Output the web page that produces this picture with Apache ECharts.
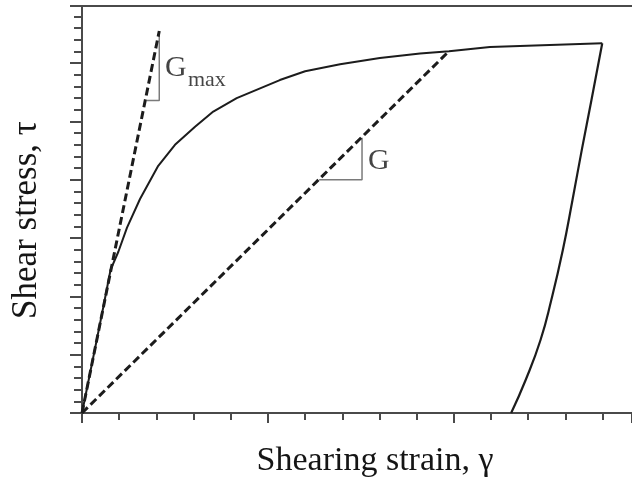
<!DOCTYPE html>
<html>
<head>
<meta charset="utf-8">
<script src="https://cdn.jsdelivr.net/npm/echarts@6/dist/echarts.min.js"></script>
<style>
  html, body { margin: 0; padding: 0; background: #fff; }
  #chart { width: 632px; height: 480px; }
</style>
</head>
<body>
<div id="chart"></div>
<script>
// Axis extents, in tick units (one minor tick = 1)
const xMax = 14.79;
const yMax = 34.9;

// Backbone (loading) curve: [strain, stress]
const backbone = [
  [0, 0], [0.19, 3.0], [0.38, 6.0], [0.58, 9.2], [0.77, 12.3], [0.98, 13.85],
  [1.21, 15.9], [1.56, 18.35], [2.05, 21.2], [2.5, 23.0], [3.04, 24.55],
  [3.53, 25.85], [4.16, 27.0], [5.32, 28.55], [6.0, 29.3], [6.94, 29.9],
  [8.01, 30.45], [9.09, 30.83], [9.87, 31.03], [10.97, 31.38], [12.58, 31.56],
  [13.99, 31.71]
];

// Unloading branch from the peak back to zero stress
const unloading = [
  [13.99, 31.71], [13.70, 26.84], [13.44, 22.56], [13.19, 18.27],
  [12.93, 13.98], [12.62, 9.69], [12.33, 6.26], [11.93, 2.83], [11.54, 0]
];

// Initial (maximum) shear modulus line and secant modulus line
const gmaxLine = [[0, 0], [2.078, 32.76]];
const secantLine = [[0, 0], [9.87, 31.03]];

// Slope triangles
const gmaxTriangle = [[1.74, 26.8], [2.078, 26.8], [2.078, 32.76]];
const gTriangle = [[6.378, 20.0], [7.53, 20.0], [7.53, 23.61]];

// Label anchors
const labelG = [[7.69, 21.6]];
const labelGmaxMain = [[2.23, 29.6]];
const labelGmaxSub = [[2.85, 28.5]];

const axisColor = '#4a4a4a';
const inkColor = '#1c1c1c';
const textColor = '#151515';
const serif = '"Liberation Serif", "DejaVu Serif", serif';

const chart = echarts.init(document.getElementById('chart'), null, { renderer: 'canvas' });

function valueAxis(extra) {
  return Object.assign({
    type: 'value',
    min: 0,
    axisLabel: { show: false },
    splitLine: { show: false },
    axisLine: { show: false },
    axisTick: { show: false }
  }, extra);
}

function textLabel(text, size) {
  return {
    show: true,
    position: 'inside',
    align: 'left',
    verticalAlign: 'middle',
    formatter: text,
    fontFamily: serif,
    fontSize: size,
    color: textColor
  };
}

chart.setOption({
  animation: false,
  backgroundColor: '#ffffff',
  grid: { left: 82, right: 0, top: 6, bottom: 67, outerBoundsMode: 'none' },
  xAxis: [
    valueAxis({
      position: 'bottom', max: xMax, interval: 1,
      axisLine: { show: true, onZero: false, lineStyle: { color: axisColor, width: 2 } },
      axisTick: { show: true, length: 7, lineStyle: { color: axisColor, width: 2 } }
    }),
    valueAxis({
      position: 'bottom', max: xMax, interval: 5,
      axisTick: { show: true, length: 10, lineStyle: { color: axisColor, width: 2 } }
    }),
    valueAxis({
      position: 'top', max: xMax,
      axisLine: { show: true, onZero: false, lineStyle: { color: axisColor, width: 2 } }
    })
  ],
  yAxis: [
    valueAxis({
      position: 'left', max: yMax, interval: 1,
      axisLine: { show: true, onZero: false, lineStyle: { color: axisColor, width: 2 } },
      axisTick: { show: true, length: 8, lineStyle: { color: axisColor, width: 2 } }
    }),
    valueAxis({
      position: 'left', max: yMax, interval: 5,
      axisTick: { show: true, length: 12, lineStyle: { color: axisColor, width: 2 } }
    })
  ],
  graphic: [
    {
      type: 'text', x: 375, y: 461,
      style: {
        text: 'Shearing strain, γ', font: '34px ' + serif,
        fill: textColor, align: 'center', verticalAlign: 'middle'
      }
    },
    {
      type: 'text', x: 27, y: 220, rotation: Math.PI / 2,
      style: {
        text: 'Shear stress, τ', font: '35px ' + serif,
        fill: textColor, align: 'center', verticalAlign: 'middle'
      }
    }
  ],
  series: [
    {
      type: 'line', data: backbone, showSymbol: false, smooth: false,
      lineStyle: { color: inkColor, width: 2 }, z: 3
    },
    {
      type: 'line', data: unloading, showSymbol: false, smooth: 0.5,
      lineStyle: { color: inkColor, width: 2.2 }, z: 3
    },
    {
      type: 'line', data: gmaxLine, showSymbol: false,
      lineStyle: { color: inkColor, width: 3, type: [8, 4] }, z: 4
    },
    {
      type: 'line', data: secantLine, showSymbol: false,
      lineStyle: { color: inkColor, width: 3, type: [8, 4] }, z: 4
    },
    {
      type: 'line', data: gmaxTriangle, showSymbol: false,
      lineStyle: { color: '#7a7a7a', width: 1.5 }, z: 2
    },
    {
      type: 'line', data: gTriangle, showSymbol: false,
      lineStyle: { color: '#7a7a7a', width: 1.5 }, z: 2
    },
    {
      type: 'scatter', data: labelG, symbolSize: 0, silent: true,
      label: textLabel('G', 30)
    },
    {
      type: 'scatter', data: labelGmaxMain, symbolSize: 0, silent: true,
      label: textLabel('G', 30)
    },
    {
      type: 'scatter', data: labelGmaxSub, symbolSize: 0, silent: true,
      label: textLabel('max', 22)
    }
  ]
});
</script>
</body>
</html>
